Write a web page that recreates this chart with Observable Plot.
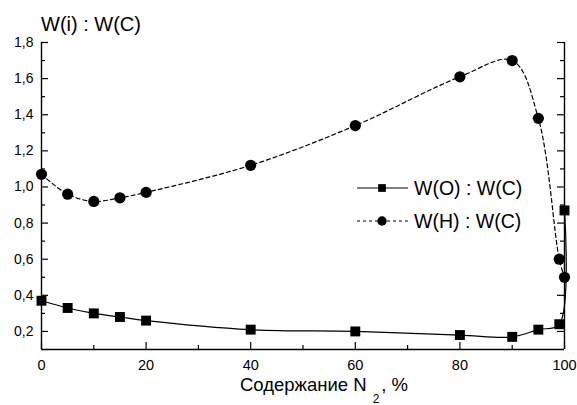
<!DOCTYPE html>
<html><head><meta charset="utf-8">
<script src="https://cdn.jsdelivr.net/npm/d3@7"></script>
<script src="https://cdn.jsdelivr.net/npm/@observablehq/plot@0.6"></script>
<style>body{margin:0;background:#fff}#chart{position:relative;width:577px;height:405px}</style>
</head><body><div id="chart"></div>
<script>
// Data
const nitrogen = [0, 5, 10, 15, 20, 40, 60, 80, 90, 95, 99, 100];
const ratioO = [0.37, 0.33, 0.30, 0.28, 0.26, 0.21, 0.20, 0.18, 0.17, 0.21, 0.24, 0.87];
const ratioH = [1.07, 0.96, 0.92, 0.94, 0.97, 1.12, 1.34, 1.61, 1.70, 1.38, 0.60, 0.50];
const seriesNames = ["W(O) : W(C)", "W(H) : W(C)"];
const xTicks = [0, 20, 40, 60, 80, 100];
const xMinor = [10, 30, 50, 70, 90];
const yTicks = [0.2, 0.4, 0.6, 0.8, 1.0, 1.2, 1.4, 1.6, 1.8];
const yMinor = [0.3, 0.5, 0.7, 0.9, 1.1, 1.3, 1.5, 1.7];
const xDomain = [0, 100];
const yDomain = [0.1, 1.8];
const yTitle = "W(i) : W(C)";
const xTitleParts = ["Содержание N", "2", ", %"];

const W = 577, H = 405, mL = 41, mR = 13, mT = 42, mB = 56;
const pw = W - mL - mR, ph = H - mT - mB;
const majorLen = 7, minorLen = 4;
const font = "'Liberation Sans', Arial, sans-serif";
const fmt = d => d.toFixed(1).replace(".", ",");
const dataO = nitrogen.map((x, i) => ({x, y: ratioO[i]}));
const dataH = nitrogen.map((x, i) => ({x, y: ratioH[i]}));

const xTick = (vals, len) => Plot.ruleX(vals, {x: d => d, y1: yDomain[1], y2: yDomain[0], insetTop: ph - len, stroke: "black", strokeWidth: 1.2});
const yTickL = (vals, len) => Plot.ruleY(vals, {y: d => d, x1: xDomain[0], x2: xDomain[1], insetRight: pw - len, stroke: "black", strokeWidth: 1.2});
const yTickR = (vals, len) => Plot.ruleY(vals, {y: d => d, x1: xDomain[0], x2: xDomain[1], insetLeft: pw - len, stroke: "black", strokeWidth: 1.2});

const plot = Plot.plot({
  width: W, height: H,
  marginLeft: mL, marginRight: mR, marginTop: mT, marginBottom: mB,
  x: {domain: xDomain},
  y: {domain: yDomain},
  style: {fontFamily: font, background: "white", color: "black"},
  marks: [
    Plot.ruleX(xDomain, {stroke: "black", strokeWidth: 1.4}),
    Plot.ruleY([yDomain[0]], {stroke: "black", strokeWidth: 1.4}),
    xTick(xTicks, majorLen), xTick(xMinor, minorLen),
    yTickL(yTicks, majorLen), yTickL(yMinor, minorLen),
    yTickR(yTicks, majorLen), yTickR(yMinor, minorLen),
    Plot.axisX(xTicks, {tickSize: 0, tickPadding: 10, tickFormat: d => String(d), fontSize: 14.5, label: null}),
    Plot.axisY(yTicks, {anchor: "left", tickSize: 0, tickPadding: 8, tickFormat: fmt, fontSize: 14, label: null}),
    Plot.line(dataO, {x: "x", y: "y", curve: "catmull-rom", stroke: "black", strokeWidth: 1.2}),
    Plot.line(dataH, {x: "x", y: "y", curve: "catmull-rom", stroke: "black", strokeWidth: 1.2, strokeDasharray: "4,3"}),
    Plot.dot(dataO, {x: "x", y: "y", symbol: "square", r: 5.6, fill: "black", stroke: "none"}),
    Plot.dot(dataH, {x: "x", y: "y", symbol: "circle", r: 5.6, fill: "black", stroke: "none"})
  ]
});
document.getElementById("chart").appendChild(plot);

const svg = d3.select(plot);
const xs = plot.scale("x");
// Y title
svg.append("text").attr("x", xs.apply(xDomain[0])).attr("y", 31).attr("text-anchor", "start")
  .attr("font-size", 20).attr("font-family", font).attr("fill", "black").text(yTitle);
// X title with subscript
const xt = svg.append("text").attr("x", 240).attr("y", 391)
  .attr("text-anchor", "start").attr("font-size", 18.5).attr("font-family", font).attr("fill", "black");
xt.append("tspan").text(xTitleParts[0]);
xt.append("tspan").attr("dx", 6).attr("dy", 12).attr("font-size", 12).text(xTitleParts[1]);
xt.append("tspan").attr("dx", 2).attr("dy", -12).text(xTitleParts[2]);

// Legend
const lg = svg.append("g").attr("font-family", font).attr("font-size", 19.5).attr("text-anchor", "start");
const legendRows = [
  {name: seriesNames[0], dash: null, symbol: d3.symbolSquare},
  {name: seriesNames[1], dash: "3,3", symbol: d3.symbolCircle}
];
legendRows.forEach((r, i) => {
  const y = 188 + i * 33;
  lg.append("line").attr("x1", 357).attr("x2", 408).attr("y1", y).attr("y2", y)
    .attr("stroke", "black").attr("stroke-width", 1.2).attr("stroke-dasharray", r.dash);
  lg.append("path").attr("transform", `translate(382,${y})`)
    .attr("d", d3.symbol(r.symbol, r.symbol === d3.symbolSquare ? 60 : 70)()).attr("fill", "black");
  lg.append("text").attr("x", 414).attr("y", y + 7).attr("fill", "black").text(r.name);
});
</script>
</body></html>
